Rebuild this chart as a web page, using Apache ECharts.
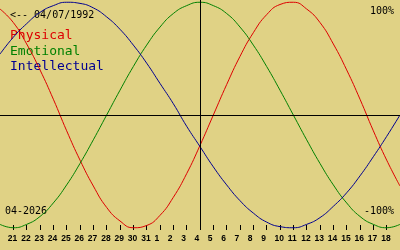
<!DOCTYPE html>
<html>
<head>
<meta charset="utf-8">
<script src="https://cdn.jsdelivr.net/npm/echarts@6/dist/echarts.min.js"></script>
<style>
  html, body { margin: 0; padding: 0; background: #e0d285; }
  #chart { width: 400px; height: 250px; }
</style>
</head>
<body>
<div id="chart"></div>
<script>
// Day positions: index 0 = 21 (March), 28 = 18 (April); -1 and 29 reach the edges
const dayIndex = [-1,0,1,2,3,4,5,6,7,8,9,10,11,12,13,14,15,16,17,18,19,20,21,22,23,24,25,26,27,28,29];
const dayLabels = ['21','22','23','24','25','26','27','28','29','30','31','1','2','3','4','5','6','7','8','9','10','11','12','13','14','15','16','17','18'];
const todayIndex = 14;

const physical = [0.94,0.82,0.63,0.40,0.14,-0.14,-0.40,-0.63,-0.82,-0.94,-1.00,-0.98,-0.89,-0.73,-0.52,-0.27,0.00,0.27,0.52,0.73,0.89,0.98,1.00,0.94,0.82,0.63,0.40,0.14,-0.14,-0.40,-0.63];
const emotional = [-0.97,-1.00,-0.97,-0.90,-0.78,-0.62,-0.43,-0.22,0.00,0.22,0.43,0.62,0.78,0.90,0.97,1.00,0.97,0.90,0.78,0.62,0.43,0.22,0.00,-0.22,-0.43,-0.62,-0.78,-0.90,-0.97,-1.00,-0.97];
const intellectual = [0.54,0.69,0.81,0.91,0.97,1.00,0.99,0.95,0.87,0.76,0.62,0.46,0.28,0.10,-0.10,-0.28,-0.46,-0.62,-0.76,-0.87,-0.95,-0.99,-1.00,-0.97,-0.91,-0.81,-0.69,-0.54,-0.37,-0.19,0.00];

const seriesNames = ['Physical', 'Emotional', 'Intellectual'];
const birthText = '<-- 04/07/1992';
const monthText = '04-2026';
const topText = '100%';
const bottomText = '-100%';

const colors = ['#dd0000', '#008000', '#000090'];
const FONT = 'DejaVu Sans Mono';

const tickValues = dayLabels.map((_, i) => i);
const pxPerDay = 400 / 30;
const labelShift = 5.5 / pxPerDay;

function pairs(vals) { return dayIndex.map((x, i) => [x, vals[i]]); }

const chart = echarts.init(document.getElementById('chart'), null, { renderer: 'canvas' });
chart.setOption({
  backgroundColor: '#e0d285',
  animation: false,
  grid: { left: 0, right: 0, top: 0, bottom: 20, containLabel: false },
  xAxis: [
    {
      type: 'value', min: -1, max: 29, interval: 1, position: 'bottom',
      axisLine: { show: false, onZero: false },
      splitLine: { show: false },
      axisTick: { show: true, inside: true, length: 5, customValues: tickValues, lineStyle: { color: '#000', width: 1 } },
      axisLabel: { show: false }
    },
    {
      type: 'value', min: -1 + labelShift, max: 29 + labelShift, position: 'bottom',
      axisLine: { show: false, onZero: false }, splitLine: { show: false }, axisTick: { show: false },
      axisLabel: {
        show: true, customValues: tickValues, align: 'left', margin: 4,
        fontFamily: 'Liberation Sans', fontSize: 8.5, fontWeight: 'bold', color: '#000',
        formatter: v => dayLabels[Math.round(v)] || ''
      }
    }
  ],
  yAxis: {
    type: 'value', min: -1.02, max: 1.02,
    axisLine: { show: false, onZero: false }, axisTick: { show: false }, axisLabel: { show: false }, splitLine: { show: false }
  },
  series: [
    {
      name: seriesNames[0], type: 'line', data: pairs(physical), smooth: true, showSymbol: false,
      lineStyle: { color: colors[0], width: 1 }, z: 3,
      markLine: {
        silent: true, symbol: 'none', animation: false, label: { show: false },
        lineStyle: { color: '#000', width: 1, type: 'solid' },
        data: [{ xAxis: todayIndex }, { yAxis: 0 }]
      }
    },
    { name: seriesNames[1], type: 'line', data: pairs(emotional), smooth: true, showSymbol: false, lineStyle: { color: colors[1], width: 1 }, z: 3 },
    { name: seriesNames[2], type: 'line', data: pairs(intellectual), smooth: true, showSymbol: false, lineStyle: { color: colors[2], width: 1 }, z: 3 }
  ],
  graphic: [
    { type: 'text', left: 10, top: 10, style: { text: birthText, fill: '#000', font: '10px ' + FONT } },
    { type: 'text', left: 10, top: 29, style: { text: seriesNames[0], fill: colors[0], font: '13px ' + FONT } },
    { type: 'text', left: 10, top: 45, style: { text: seriesNames[1], fill: colors[1], font: '13px ' + FONT } },
    { type: 'text', left: 10, top: 60, style: { text: seriesNames[2], fill: colors[2], font: '13px ' + FONT } },
    { type: 'text', right: 6, top: 6, style: { text: topText, fill: '#000', font: '10px ' + FONT } },
    { type: 'text', right: 6, top: 206, style: { text: bottomText, fill: '#000', font: '10px ' + FONT } },
    { type: 'text', left: 5, top: 206, style: { text: monthText, fill: '#000', font: '10px ' + FONT } }
  ]
});
</script>
</body>
</html>
